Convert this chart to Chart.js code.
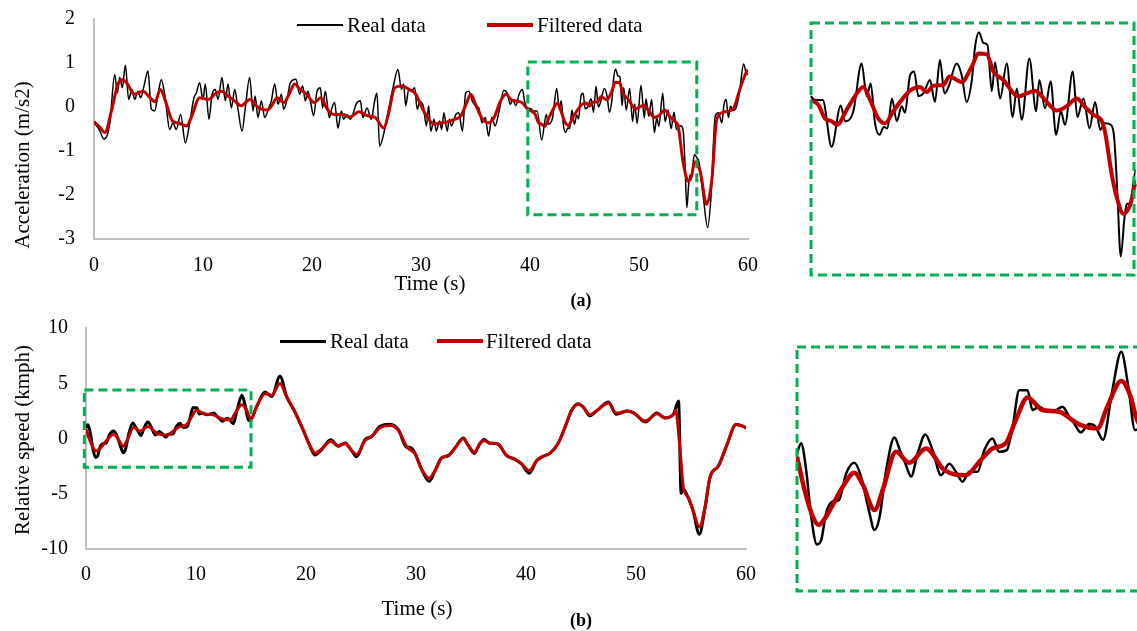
<!DOCTYPE html>
<html>
<head>
<meta charset="utf-8">
<script src="https://cdn.jsdelivr.net/npm/chart.js@4.4.1/dist/chart.umd.min.js"></script>
<style>
  html, body { margin:0; padding:0; background:#fff; }
  body { width:1137px; height:631px; overflow:hidden; position:relative; font-family:'Liberation Serif','Times New Roman',serif; color:#000; }
  canvas { position:absolute; }
  .t { position:absolute; white-space:nowrap; font-size:21px; line-height:24px; }
  .c { transform:translate(-50%,-50%); }
  .r { transform:translate(-50%,-50%) rotate(-90deg); }
  .ln { position:absolute; }
</style>
</head>
<body>
<canvas id="accMain" width="770" height="310" style="left:0;top:0"></canvas>
<canvas id="accZoom" width="337" height="300" style="left:800px;top:0"></canvas>
<canvas id="spdMain" width="770" height="321" style="left:0;top:310px"></canvas>
<canvas id="spdZoom" width="360" height="280" style="left:785px;top:330px"></canvas>

<div class="t r" style="left:22px;top:165px">Acceleration (m/s2)</div>
<div class="t c" style="left:430px;top:283px">Time (s)</div>
<div class="t c" style="left:581px;top:300px;font-weight:bold;font-size:18px">(a)</div>
<div class="ln" style="left:297px;top:24px;width:46px;height:2px;background:#000"></div>
<div class="t" style="left:347px;top:13px">Real data</div>
<div class="ln" style="left:487px;top:23px;width:46px;height:4px;background:#C00000"></div>
<div class="t" style="left:537px;top:13px">Filtered data</div>

<div class="t r" style="left:22px;top:440px">Relative speed (kmph)</div>
<div class="t c" style="left:417px;top:608px">Time (s)</div>
<div class="t c" style="left:581px;top:620px;font-weight:bold;font-size:18px">(b)</div>
<div class="ln" style="left:280px;top:340px;width:46px;height:3px;background:#000"></div>
<div class="t" style="left:330px;top:329px">Real data</div>
<div class="ln" style="left:437px;top:339px;width:46px;height:4px;background:#C00000"></div>
<div class="t" style="left:486px;top:329px">Filtered data</div>

<script>
// ---------- (a) Acceleration (m/s2) ----------
const accRealTime = [0.00,0.45,0.92,1.44,1.90,2.14,2.36,2.60,2.88,3.18,3.49,3.73,4.04,4.28,4.59,4.95,5.26,5.57,5.87,6.18,6.54,6.94,7.25,7.55,7.95,8.38,8.78,9.17,9.39,9.69,10.00,10.21,10.55,10.83,11.13,11.38,11.74,12.05,12.29,12.60,12.91,13.21,13.58,13.88,14.28,14.59,14.78,15.04,15.35,15.66,16.03,16.27,16.58,16.88,17.19,17.40,17.71,18.01,18.53,18.87,19.14,19.39,19.63,19.85,20.15,20.46,20.77,20.98,21.22,21.59,21.83,22.08,22.38,22.70,22.90,23.20,23.50,23.80,24.04,24.44,24.67,25.05,25.44,25.75,25.96,26.20,26.67,27.03,27.40,27.89,28.20,28.40,28.60,28.87,29.10,29.42,29.65,29.90,30.20,30.50,30.70,30.90,31.20,31.40,31.70,31.90,32.10,32.40,32.60,32.80,33.20,33.46,33.80,34.10,34.40,34.70,35.00,35.30,35.60,35.90,36.20,36.50,36.80,37.20,37.60,37.90,38.20,38.40,38.70,39.00,39.30,39.50,39.75,40.10,40.30,40.66,41.07,41.49,41.69,42.07,42.45,42.69,42.87,43.07,43.27,43.48,43.64,43.85,44.07,44.30,44.45,44.68,44.87,45.07,45.30,45.60,45.83,46.06,46.27,46.45,46.83,47.06,47.29,47.53,47.68,47.86,48.06,48.25,48.45,48.60,48.83,49.14,49.41,49.60,49.83,50.18,50.49,50.64,50.90,51.16,51.41,51.63,51.82,52.18,52.39,52.67,52.95,53.21,53.44,53.67,53.93,54.08,54.22,54.39,54.56,54.67,54.82,55.08,55.30,55.50,55.90,56.30,56.60,57.00,57.30,57.60,57.80,58.00,58.20,58.40,58.60,58.90,59.20,59.60,59.80,60.00];
const accReal = [-0.36,-0.50,-0.73,-0.39,0.74,0.32,0.67,0.44,0.95,0.17,0.40,0.17,0.36,0.21,0.48,0.82,-0.05,-0.09,0.29,0.62,0.20,-0.51,-0.36,-0.51,-0.17,-0.81,-0.36,0.21,0.32,0.55,0.17,0.52,-0.28,0.29,0.40,0.17,0.67,0.14,0.52,-0.02,0.40,-0.05,-0.55,-0.02,0.67,-0.09,0.25,-0.24,0.14,-0.24,-0.02,0.14,0.52,0.06,0.29,-0.05,0.17,0.55,0.63,0.29,0.48,0.14,0.36,0.14,-0.20,0.36,0.44,-0.02,0.36,-0.24,-0.02,0.10,-0.48,-0.09,-0.28,-0.17,-0.28,-0.13,0.06,0.14,-0.24,-0.02,-0.28,0.14,0.32,-0.89,-0.51,-0.05,0.40,0.85,0.40,0.52,0.03,0.40,0.36,0.44,-0.05,0.12,0.03,-0.43,0.03,-0.55,-0.28,-0.55,-0.32,-0.51,-0.13,-0.55,-0.28,-0.43,-0.17,-0.13,-0.55,0.32,0.36,0.14,0.03,-0.02,-0.36,-0.24,-0.66,-0.24,-0.43,-0.05,0.38,0.32,0.06,0.17,0.03,0.29,0.40,0.14,-0.02,-0.04,-0.09,-0.09,-0.75,-0.17,-0.39,-0.25,0.42,-0.04,0.14,-0.42,-0.58,-0.47,-0.49,-0.07,-0.39,-0.18,-0.27,0.25,0.31,-0.04,0.00,0.19,-0.12,0.47,0.00,0.09,0.42,0.26,-0.12,0.19,0.66,0.86,0.71,0.68,0.03,0.44,-0.07,0.42,-0.33,0.07,-0.37,0.49,-0.25,0.19,-0.21,0.17,-0.58,-0.25,-0.44,0.31,-0.33,-0.07,-0.49,-0.12,-0.51,-0.42,-0.44,-0.60,-1.30,-2.29,-1.75,-1.55,-1.55,-1.08,-1.15,-1.25,-2.05,-2.74,-2.06,-0.20,-0.13,-0.36,0.06,0.17,-0.24,0.02,-0.08,-0.02,0.30,0.98,0.80,0.73];
const accFiltTime = [0.0,0.5,1.0,1.6,2.2,2.6,3.0,3.7,4.5,5.0,5.6,6.1,6.6,7.2,7.7,8.5,8.9,9.7,10.5,11.2,11.7,12.3,12.9,13.5,14.3,15.1,15.9,16.3,16.8,17.4,17.9,18.4,18.9,19.5,20.2,20.8,21.4,22.0,22.8,23.5,24.3,25.1,25.8,26.6,27.0,27.6,28.3,28.9,29.5,30.1,30.6,31.2,31.8,32.4,33.06,33.67,34.13,34.58,35.0,35.66,36.27,36.7,37.3,37.8,38.26,38.7,39.27,39.8,40.10,40.46,40.76,41.07,41.33,41.76,42.23,42.53,42.84,43.22,43.53,43.91,44.30,44.68,45.14,45.45,45.76,46.22,46.50,46.83,47.06,47.53,47.83,48.22,48.52,48.98,49.67,50.06,50.44,50.90,51.44,51.90,52.36,52.75,53.13,53.52,53.67,53.98,54.28,54.51,54.82,55.10,55.60,56.20,56.70,57.10,57.60,58.40,58.70,59.30,59.90,60.00];
const accFilt = [-0.33,-0.45,-0.58,-0.09,0.52,0.62,0.55,0.29,0.36,0.25,0.12,0.40,0.10,-0.32,-0.36,-0.43,-0.25,0.21,0.17,0.32,0.36,0.25,0.14,0.03,0.17,-0.02,-0.07,0.03,0.21,0.10,0.29,0.52,0.40,0.29,0.10,0.21,-0.05,-0.17,-0.17,-0.23,-0.11,-0.20,-0.24,-0.48,-0.17,0.44,0.48,0.40,0.30,-0.02,-0.24,-0.39,-0.36,-0.34,-0.28,-0.20,0.06,0.29,0.06,-0.28,-0.36,-0.24,0.14,0.29,0.17,0.14,0.10,-0.05,-0.09,-0.16,-0.35,-0.39,-0.44,-0.23,0.00,0.09,-0.09,-0.35,-0.42,-0.25,-0.09,0.04,0.09,0.02,0.11,0.12,0.24,0.19,0.16,0.38,0.56,0.55,0.31,0.19,-0.04,0.00,0.04,-0.09,-0.24,-0.18,-0.07,-0.19,-0.30,-0.39,-0.55,-1.15,-1.54,-1.69,-1.57,-1.25,-1.45,-2.21,-1.61,-0.32,-0.13,-0.08,-0.02,0.44,0.82,0.84];

// ---------- (b) Relative speed (kmph) ----------
const spdRealTime = [0.00,0.18,0.40,0.62,0.87,1.06,1.27,1.57,1.83,2.15,2.51,2.80,3.14,3.39,3.60,3.90,4.26,4.50,4.74,4.99,5.28,5.61,5.93,6.30,6.66,6.95,7.24,7.53,7.90,8.19,8.55,8.84,9.17,9.43,9.72,10.08,10.30,10.60,10.95,11.32,11.61,11.90,12.12,12.41,12.77,13.06,13.38,13.79,14.18,14.49,14.78,15.00,15.50,16.27,16.88,17.64,18.24,19.00,19.76,20.36,20.82,21.42,22.24,22.94,23.55,24.15,24.60,25.36,25.97,26.73,27.64,28.40,29.15,29.45,29.90,30.50,31.20,31.73,32.33,32.94,33.55,34.30,34.76,35.30,35.80,36.20,36.70,37.40,38.25,39.00,39.60,40.30,40.97,41.50,42.20,42.90,43.55,44.15,44.75,45.20,45.80,46.55,47.50,48.20,49.20,49.82,50.85,51.90,52.64,53.40,53.87,54.10,54.30,54.76,55.20,55.76,56.27,56.73,57.50,58.24,59.10,59.76,60.00];
const spdReal = [0.95,1.24,0.46,-0.90,-1.71,-1.58,-0.80,-0.46,-0.42,0.36,0.67,0.27,-0.71,-1.29,-0.95,0.46,1.41,1.04,0.65,0.27,0.95,1.50,1.04,0.31,0.64,0.41,0.12,0.41,0.41,1.04,1.38,0.99,1.04,1.72,2.79,2.79,2.21,2.31,2.16,2.21,2.31,2.02,1.82,1.56,1.80,1.72,1.34,2.79,3.91,2.89,1.63,1.70,2.85,4.20,3.80,5.64,3.80,2.39,0.73,-0.70,-1.50,-1.00,-0.12,-0.70,-0.40,-1.10,-1.65,-0.10,0.20,1.10,1.30,0.80,-0.80,-0.80,-1.30,-2.76,-3.88,-2.91,-1.76,-1.55,-0.85,0.05,-0.64,-1.35,-0.48,-0.10,-0.42,-0.48,-1.55,-1.90,-2.30,-3.15,-2.00,-1.64,-1.33,-0.48,1.03,2.55,3.15,2.85,2.05,2.61,3.30,2.20,2.50,2.30,1.50,2.30,1.85,2.20,3.39,-4.97,-4.60,-5.40,-6.60,-8.67,-6.30,-3.50,-2.48,-0.64,1.27,1.09,0.94];
const spdFiltTime = [0.00,0.33,0.69,0.95,1.27,1.64,2.00,2.51,2.88,3.39,3.75,4.33,4.91,5.64,6.44,7.39,7.97,8.55,9.13,9.57,10.08,10.73,11.46,12.04,12.41,13.14,13.57,14.18,14.59,14.82,15.00,15.50,16.27,16.88,17.64,18.24,19.00,19.76,20.36,20.82,21.42,22.24,22.94,23.55,24.15,24.60,25.36,25.97,26.73,27.64,28.40,29.15,29.90,30.50,31.20,31.73,32.33,32.94,33.55,34.30,34.76,35.30,35.80,36.20,36.70,37.40,38.25,39.00,39.60,40.30,40.97,41.50,42.20,42.90,43.55,44.15,44.75,45.20,45.80,46.55,47.50,48.20,49.20,49.82,50.85,51.90,52.64,53.40,53.60,54.00,54.30,54.76,55.20,55.76,56.27,56.73,57.50,58.24,59.10,59.76,60.00];
const spdFilt = [0.85,-0.12,-0.90,-1.14,-0.90,-0.46,-0.03,0.38,0.03,-0.71,-0.12,0.99,0.67,1.09,0.46,0.31,0.70,1.09,1.24,1.92,2.58,2.21,2.16,1.92,1.77,1.67,2.31,3.06,2.60,2.02,1.79,2.85,4.06,3.91,4.97,3.76,2.39,0.73,-0.64,-1.33,-0.94,-0.24,-0.64,-0.48,-1.09,-1.45,-0.18,0.18,0.97,1.18,0.73,-0.73,-1.39,-2.76,-3.58,-2.91,-1.76,-1.55,-0.85,-0.03,-0.64,-1.24,-0.48,-0.18,-0.42,-0.48,-1.55,-1.85,-2.30,-2.91,-2.00,-1.64,-1.33,-0.48,1.03,2.55,3.09,2.85,2.15,2.61,3.21,2.30,2.48,2.30,1.58,2.24,1.88,2.18,2.55,-0.94,-4.42,-5.33,-6.55,-8.00,-6.24,-3.52,-2.48,-0.64,1.27,1.09,0.94];

const accXTicks = [0, 60, 10];
const accYTicks = [-3, 2, 1];
const spdXTicks = [0, 60, 10];
const spdYTicks = [-10, 10, 5];

const REAL_COLOR = '#000000';
const FILT_COLOR = '#C00000';
const BOX_COLOR = '#00B050';
const FONT = "'Liberation Serif', 'Times New Roman', serif";

function pts(t, v) { return t.map((x, i) => ({ x: x, y: v[i] })); }

const dashBox = {
  id: 'dashBox',
  afterDatasetsDraw(chart, args, o) {
    if (!o || o.xMin === undefined) return;
    const { ctx, scales } = chart;
    const l = scales.x.getPixelForValue(o.xMin), r = scales.x.getPixelForValue(o.xMax);
    const t = scales.y.getPixelForValue(o.yMax), b = scales.y.getPixelForValue(o.yMin);
    ctx.save();
    ctx.strokeStyle = BOX_COLOR; ctx.lineWidth = 3; ctx.setLineDash([9, 5]);
    ctx.lineJoin = 'miter';
    ctx.strokeRect(l, t, r - l, b - t);
    ctx.restore();
  }
};
Chart.register(dashBox);

function ds(data, color, width, order, clip) {
  const d = { data: data, borderColor: color, backgroundColor: color, borderWidth: width,
    pointRadius: 0, cubicInterpolationMode: 'monotone', order: order, fill: false };
  if (clip !== undefined) d.clip = clip;
  return d;
}

function mainChart(id, realT, real, filtT, filt, xt, yt, o) {
  return new Chart(document.getElementById(id), {
    type: 'line',
    data: { datasets: [
      ds(pts(filtT, filt), FILT_COLOR, o.fw, 0),
      ds(pts(realT, real), REAL_COLOR, o.rw, 1)
    ] },
    options: {
      responsive: false, animation: false, events: [],
      layout: { padding: { top: o.pt, right: o.pr, left: 0, bottom: 0 } },
      plugins: { legend: { display: false }, tooltip: { enabled: false }, dashBox: o.box },
      scales: {
        x: { type: 'linear', min: xt[0], max: xt[1],
          ticks: { stepSize: xt[2], color: '#000', font: { family: FONT, size: 20 }, padding: o.xpad, maxRotation: 0 },
          grid: { display: false, drawTicks: false },
          border: { display: true, color: '#BFBFBF', width: 2 },
          afterFit: s => { s.height = o.xh; s.paddingLeft = 0; s.paddingRight = 0; } },
        y: { type: 'linear', min: yt[0], max: yt[1],
          ticks: { stepSize: yt[2], color: '#000', font: { family: FONT, size: 20 }, padding: o.ypad },
          grid: { display: false, drawTicks: false },
          border: { display: true, color: '#BFBFBF', width: 2 },
          afterFit: s => { s.width = o.yw; s.paddingTop = 0; s.paddingBottom = 0; } }
      }
    }
  });
}

function zoomChart(id, realT, real, filtT, filt, o) {
  const clip = { left: 1, right: 12, top: 6, bottom: 6 };
  return new Chart(document.getElementById(id), {
    type: 'line',
    data: { datasets: [
      ds(pts(filtT, filt), FILT_COLOR, o.fw, 0, clip),
      ds(pts(realT, real), REAL_COLOR, o.rw, 1, clip)
    ] },
    options: {
      responsive: false, animation: false, events: [],
      layout: { padding: o.pad },
      plugins: { legend: { display: false }, tooltip: { enabled: false },
        dashBox: { xMin: o.x[0], xMax: o.x[1], yMin: o.y[0], yMax: o.y[1] } },
      scales: {
        x: { type: 'linear', display: false, min: o.x[0], max: o.x[1] },
        y: { type: 'linear', display: false, min: o.y[0], max: o.y[1] }
      }
    }
  });
}

mainChart('accMain', accRealTime, accReal, accFiltTime, accFilt, accXTicks, accYTicks,
  { fw: 3, rw: 1.5, pt: 19, pr: 22, xh: 71, yw: 94, xpad: 15, ypad: 19,
    box: { xMin: 39.8, xMax: 55.3, yMin: -2.45, yMax: 1.02 } });
zoomChart('accZoom', accRealTime, accReal, accFiltTime, accFilt,
  { fw: 4, rw: 2, x: [40.12, 55.0], y: [-2.55, 0.99], pad: { left: 11, right: 3, top: 23, bottom: 25 } });

mainChart('spdMain', spdRealTime, spdReal, spdFiltTime, spdFilt, spdXTicks, spdYTicks,
  { fw: 3, rw: 3, pt: 18, pr: 24, xh: 82, yw: 86, xpad: 14, ypad: 18,
    box: { xMin: -0.15, xMax: 15.0, yMin: -2.6, yMax: 4.4 } });
zoomChart('spdZoom', spdRealTime, spdReal, spdFiltTime, spdFilt,
  { fw: 4.5, rw: 2.5, x: [0, 15], y: [-3.07, 4.05], pad: { left: 12, right: 5, top: 17, bottom: 19 } });
</script>
</body>
</html>
